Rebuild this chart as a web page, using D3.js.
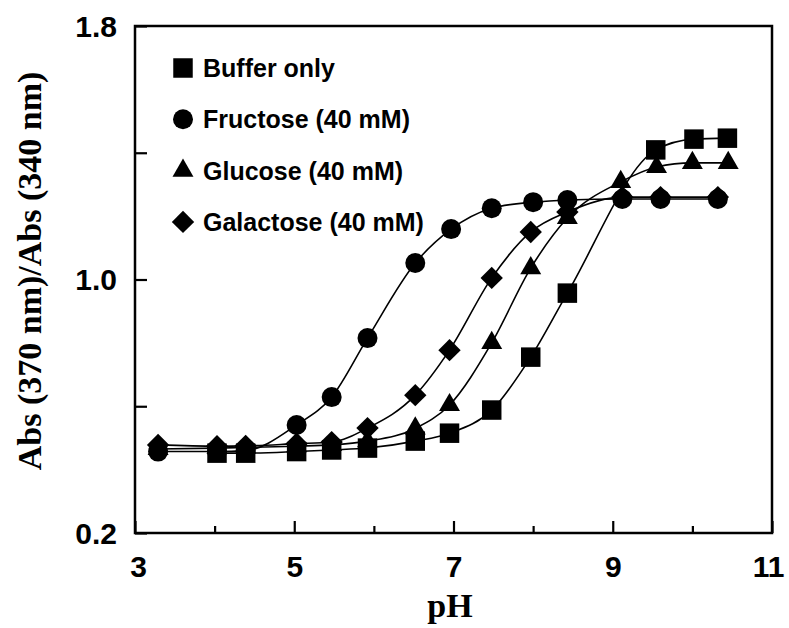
<!DOCTYPE html>
<html>
<head>
<meta charset="utf-8">
<script src="https://cdn.jsdelivr.net/npm/d3@7"></script>
<style>
  body { margin: 0; background: #fff; }
  svg { display: block; }
</style>
</head>
<body>
<div id="chart"></div>
<script>
const width = 789;
const height = 628;
const margin = { top: 26, right: 17, bottom: 95, left: 135 };

// data (pH, Abs370/Abs340)
const seriesNames = ["Buffer only", "Fructose (40 mM)", "Glucose (40 mM)", "Galactose (40 mM)"];
const bufferPH = [4.03, 4.39, 5.03, 5.47, 5.92, 6.52, 6.95, 7.48, 7.97, 8.43, 9.54, 10.02, 10.44];
const bufferVal = [0.452, 0.452, 0.457, 0.462, 0.468, 0.49, 0.515, 0.588, 0.755, 0.957, 1.409, 1.443, 1.446];
const fructosePH = [3.29, 4.03, 4.39, 5.03, 5.47, 5.92, 6.52, 6.97, 7.48, 8.0, 8.43, 9.12, 9.6, 10.32];
const fructoseVal = [0.457, 0.457, 0.46, 0.541, 0.629, 0.815, 1.052, 1.159, 1.225, 1.244, 1.251, 1.254, 1.254, 1.254];
const glucosePH = [3.29, 4.03, 4.39, 5.03, 5.47, 5.92, 6.52, 6.95, 7.48, 7.97, 8.43, 9.1, 9.55, 10.0, 10.45];
const glucoseVal = [0.465, 0.468, 0.47, 0.474, 0.478, 0.49, 0.53, 0.604, 0.8, 1.036, 1.194, 1.308, 1.355, 1.368, 1.368];
const galactosePH = [3.29, 4.03, 4.39, 5.03, 5.47, 5.92, 6.52, 6.95, 7.48, 7.97, 8.43, 9.12, 9.6, 10.32];
const galactoseVal = [0.478, 0.474, 0.475, 0.482, 0.487, 0.531, 0.635, 0.777, 1.005, 1.15, 1.213, 1.26, 1.26, 1.26];

const xMajor = [3, 5, 7, 9, 11];
const xMinor = [4, 6, 8, 10];
const yMajor = [0.2, 1.0, 1.8];
const yMinor = [0.6, 1.4];

const svg = d3.select("div#chart").append("svg")
    .attr("width", width)
    .attr("height", height)

const x = d3.scaleLinear().domain([3, 11]).range([margin.left, width - margin.right])
const y = d3.scaleLinear().domain([0.2, 1.8]).range([height - margin.bottom, margin.top])

const sansFont = "Arial, 'Liberation Sans', sans-serif"
const serifFont = "'Times New Roman', 'Liberation Serif', serif"

// frame
svg.append("rect")
    .attr("x", x(3))
    .attr("y", y(1.8))
    .attr("width", x(11) - x(3))
    .attr("height", y(0.2) - y(1.8))
    .attr("fill", "none")
    .attr("stroke", "#000")
    .attr("stroke-width", 2.5)

const xAxisGroup = svg.append("g")
    .attr("transform", `translate(0, ${y(0.2)})`)
xAxisGroup.call(d3.axisBottom(x).tickValues(xMajor).tickSize(-12).tickFormat(d3.format("d")))
svg.append("g")
    .attr("transform", `translate(0, ${y(0.2)})`)
    .call(d3.axisBottom(x).tickValues(xMinor).tickSize(-7).tickFormat(""))

const yAxisGroup = svg.append("g")
    .attr("transform", `translate(${x(3)}, 0)`)
yAxisGroup.call(d3.axisLeft(y).tickValues(yMajor).tickSize(-12).tickFormat(d3.format(".1f")))
svg.append("g")
    .attr("transform", `translate(${x(3)}, 0)`)
    .call(d3.axisLeft(y).tickValues(yMinor).tickSize(-12).tickFormat(""))

svg.selectAll(".domain").remove()
svg.selectAll(".tick line").attr("stroke", "#000").attr("stroke-width", 2.2)

xAxisGroup.selectAll("text")
    .attr("y", 0)
    .attr("dy", 44)
    .attr("dx", d => d == 11 ? -4 : (d == 3 ? 3 : 0))
    .style("font-family", sansFont)
    .style("font-weight", "bold")
    .style("font-size", "30px")
    .attr("fill", "#000")

yAxisGroup.selectAll("text")
    .attr("x", -18)
    .attr("dy", 10)
    .style("font-family", sansFont)
    .style("font-weight", "bold")
    .style("font-size", "30px")
    .attr("fill", "#000")

// axis titles
svg.append("text")
    .attr("x", 450)
    .attr("y", 617)
    .attr("text-anchor", "middle")
    .style("font-family", serifFont)
    .style("font-weight", "bold")
    .style("font-size", "34px")
    .text("pH")

svg.append("text")
    .attr("transform", "translate(41, 271) rotate(-90)")
    .attr("text-anchor", "middle")
    .style("font-family", serifFont)
    .style("font-weight", "bold")
    .style("font-size", "34px")
    .text("Abs (370 nm)/Abs (340 nm)")

// series
const series = [
    { name: seriesNames[0], ph: bufferPH, val: bufferVal, symbol: d3.symbolSquare, size: 380, rotate: 0 },
    { name: seriesNames[1], ph: fructosePH, val: fructoseVal, symbol: d3.symbolCircle, size: 314, rotate: 0 },
    { name: seriesNames[2], ph: glucosePH, val: glucoseVal, symbol: d3.symbolTriangle, size: 190, rotate: 0 },
    { name: seriesNames[3], ph: galactosePH, val: galactoseVal, symbol: d3.symbolSquare, size: 250, rotate: 45 }
]

const line = d3.line()
    .x(d => x(d[0]))
    .y(d => y(d[1]))
    .curve(d3.curveMonotoneX)

const elementGroup = svg.append("g").attr("class", "elementGroup")

series.forEach(s => {
    const pts = s.ph.map((p, i) => [p, s.val[i]])
    elementGroup.append("path")
        .datum(pts)
        .attr("d", line)
        .attr("fill", "none")
        .attr("stroke", "#000")
        .attr("stroke-width", 1.6)
})

series.forEach(s => {
    const pts = s.ph.map((p, i) => [p, s.val[i]])
    elementGroup.selectAll(null)
        .data(pts)
        .enter().append("path")
        .attr("d", d3.symbol().type(s.symbol).size(s.size))
        .attr("transform", d => `translate(${x(d[0])}, ${y(d[1])}) rotate(${s.rotate})`)
        .attr("fill", "#000")
})

// legend
const legend = svg.append("g")
series.forEach((s, i) => {
    const cy = 68 + i * 51.3
    legend.append("path")
        .attr("d", d3.symbol().type(s.symbol).size(s.size))
        .attr("transform", `translate(183, ${cy}) rotate(${s.rotate})`)
        .attr("fill", "#000")
    legend.append("text")
        .attr("x", 203)
        .attr("y", cy + 9)
        .style("font-family", sansFont)
        .style("font-weight", "bold")
        .style("font-size", "25px")
        .text(s.name)
})
</script>
</body>
</html>
